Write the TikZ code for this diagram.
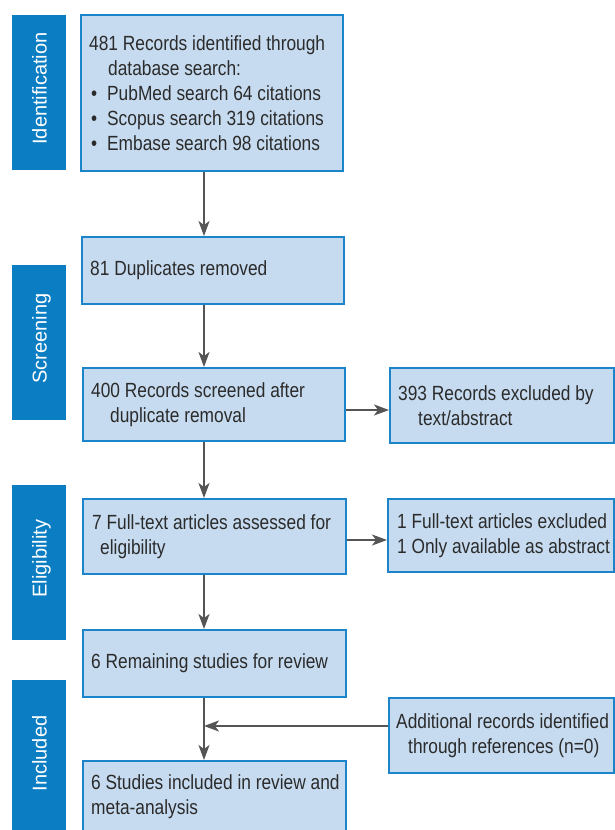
\documentclass[tikz,border=0pt]{standalone}
\usepackage{fontspec}
\setmainfont[FakeStretch=0.845]{Liberation Sans}
\newfontfamily\sidefont{Liberation Sans}
\usetikzlibrary{arrows.meta}
\definecolor{sidebar}{HTML}{0B7DC3}
\definecolor{boxfill}{HTML}{C6DBEF}
\definecolor{boxline}{HTML}{1C85CA}
\definecolor{arrowc}{HTML}{555555}
\definecolor{txt}{HTML}{2B2B2B}
\newcommand\bul{\makebox[18pt][l]{\hspace*{2pt}\textbullet}}
\begin{document}
\begin{tikzpicture}[x=1pt,y=-1pt,
  side/.style={fill=sidebar, draw=none, anchor=north west, inner sep=0pt, minimum width=54pt, minimum height=155pt},
  sidelabel/.style={text=white, font=\sidefont\fontsize{20}{24}\selectfont, rotate=90, inner sep=0pt, text height=15pt, text depth=0pt},
  box/.style={draw=boxline, fill=boxfill, line width=1.8pt, anchor=north west, inner sep=0pt},
  boxtext/.style={anchor=west, align=left, inner sep=0pt, text=txt, font=\fontsize{20.5}{25}\selectfont},
  arr/.style={draw=arrowc, line width=1.8pt, -{Stealth[length=15pt,width=11pt,inset=4pt]}}]
\useasboundingbox (0,0) rectangle (614,830);

% side bars
\node[side] (s1) at (12,15) {};
\node[side] (s2) at (12,265) {};
\node[side] (s3) at (12,485) {};
\node[side] (s4) at (12,680) {};
\node[sidelabel] (l1) at (39,88.5) {Identification};
\node[sidelabel] (l2) at (39,338.5) {Screening};
\node[sidelabel] (l3) at (39,558.5) {Eligibility};
\node[sidelabel] (l4) at (39,753.5) {Included};

% main boxes
\node[box, minimum width=262pt, minimum height=156pt] (b1) at (80,14) {};
\node[box, minimum width=262pt, minimum height=67pt] (b2) at (81,236) {};
\node[box, minimum width=262pt, minimum height=73pt] (b3) at (82,367) {};
\node[box, minimum width=263pt, minimum height=75pt] (b4) at (82,498) {};
\node[box, minimum width=263pt, minimum height=67pt] (b5) at (82,629) {};
\node[box, minimum width=263pt, minimum height=72pt] (b6) at (82,760) {};
% right boxes
\node[box, minimum width=224pt, minimum height=75pt] (r1) at (389,367) {};
\node[box, minimum width=226pt, minimum height=73pt] (r2) at (387,498) {};
\node[box, minimum width=225pt, minimum height=75pt] (r3) at (388,697) {};

% texts
\node[boxtext] (t1) at ([xshift=9pt]b1.west) {481 Records identified through\\\hspace*{19pt}database search:\\\bul PubMed search 64 citations\\\bul Scopus search 319 citations\\\bul Embase search 98 citations};
\node[boxtext] (t2) at ([xshift=9pt]b2.west) {81 Duplicates removed};
\node[boxtext] (t3) at ([xshift=9pt]b3.west) {400 Records screened after\\\hspace*{19pt}duplicate removal};
\node[boxtext] (t4) at ([xshift=10pt]b4.west) {7 Full-text articles assessed for\\\hspace*{8pt}eligibility};
\node[boxtext] (t5) at ([xshift=9pt]b5.west) {6 Remaining studies for review};
\node[boxtext] (t6) at ([xshift=9pt]b6.west) {6 Studies included in review and\\meta-analysis};
\node[boxtext] (u1) at ([xshift=9pt]r1.west) {393 Records excluded by\\\hspace*{20pt}text/abstract};
\node[boxtext] (u2) at ([xshift=10pt]r2.west) {1 Full-text articles excluded\\1 Only available as abstract};
\node[boxtext] (u3) at ([xshift=8pt]r3.west) {Additional records identified\\\hspace*{12pt}through references (n=0)};

% connectors
\coordinate (ax) at (204,0);
\coordinate (h1) at (0,410);
\coordinate (h2) at (0,540);
\coordinate (h3) at (0,726);
\draw[arr] (b1.south -| ax) -- (b2.north -| ax);
\draw[arr] (b2.south -| ax) -- (b3.north -| ax);
\draw[arr] (b3.south -| ax) -- (b4.north -| ax);
\draw[arr] (b4.south -| ax) -- (b5.north -| ax);
\draw[arr] (b5.south -| ax) -- (b6.north -| ax);
\draw[arr] (b3.east |- h1) -- (r1.west |- h1);
\draw[arr] (b4.east |- h2) -- (r2.west |- h2);
\draw[arr] (r3.west |- h3) -- (h3 -| ax);
\end{tikzpicture}
\end{document}
